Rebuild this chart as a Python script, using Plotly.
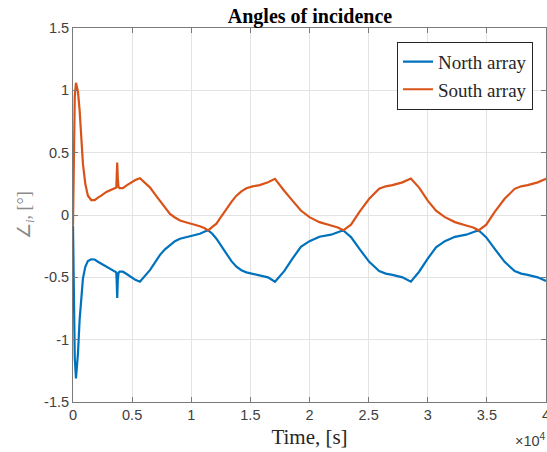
import plotly.graph_objects as go

# Simulation time [s]
time_s = [
    0, 60, 150, 250, 420, 560, 700, 840, 1040, 1260, 1540, 1830, 2110, 2390,
    2820, 3250, 3660, 3700, 3740, 3790, 3850, 3940, 4220, 4570, 4920, 5270,
    5660, 6000, 6520, 6940, 7360, 7780, 8200, 8620, 9050, 9540, 10030, 10730,
    11100, 11430, 11780, 12130, 12550, 12970, 13400, 13820, 14240, 14660,
    15200, 15790, 16490, 17080, 17460, 17860, 18560, 19270, 20000, 20840,
    21820, 22400, 22860, 23180, 23510, 24210, 25050, 25890, 26450, 27010,
    27860, 28570, 28920, 29270, 30000, 30700, 31450, 32300, 33250, 33850,
    34300, 34620, 34950, 35650, 36500, 37350, 37900, 38450, 39300, 40000,
]

# Angle of incidence, north array [deg]
north_deg = [
    -0.085, -0.6, -1.15, -1.31, -1.11, -0.84, -0.655, -0.51, -0.415, -0.37,
    -0.355, -0.357, -0.375, -0.39, -0.415, -0.44, -0.46, -0.55, -0.665, -0.52,
    -0.465, -0.455, -0.455, -0.475, -0.5, -0.52, -0.535, -0.5, -0.44, -0.38,
    -0.32, -0.275, -0.24, -0.21, -0.19, -0.178, -0.17, -0.15, -0.135, -0.123,
    -0.15, -0.19, -0.25, -0.31, -0.37, -0.415, -0.443, -0.46, -0.472, -0.48,
    -0.5, -0.535, -0.49, -0.45, -0.35, -0.256, -0.21, -0.174, -0.158, -0.14,
    -0.123, -0.15, -0.177, -0.27, -0.376, -0.45, -0.47, -0.48, -0.5, -0.535,
    -0.495, -0.455, -0.35, -0.26, -0.21, -0.175, -0.158, -0.14, -0.123, -0.15,
    -0.18, -0.27, -0.376, -0.45, -0.47, -0.48, -0.5, -0.53,
]

# Angle of incidence, south array [deg]
south_deg = [
    -0.085, 0.45, 0.95, 1.06, 0.99, 0.84, 0.63, 0.41, 0.25, 0.155,
    0.12, 0.12, 0.14, 0.155, 0.185, 0.205, 0.22, 0.32, 0.42, 0.29,
    0.225, 0.215, 0.215, 0.24, 0.26, 0.28, 0.295, 0.265, 0.22, 0.165,
    0.115, 0.06, 0.008, -0.02, -0.044, -0.058, -0.07, -0.09, -0.105, -0.123,
    -0.095, -0.07, -0.01, 0.05, 0.105, 0.155, 0.19, 0.215, 0.23, 0.24,
    0.262, 0.29, 0.24, 0.195, 0.115, 0.036, -0.017, -0.057, -0.084, -0.1,
    -0.123, -0.1, -0.078, 0.023, 0.13, 0.21, 0.23, 0.24, 0.262, 0.293,
    0.255, 0.22, 0.115, 0.035, -0.017, -0.057, -0.084, -0.1, -0.123, -0.1,
    -0.078, 0.023, 0.13, 0.21, 0.23, 0.24, 0.262, 0.29,
]

x_tick_vals = [0, 5000, 10000, 15000, 20000, 25000, 30000, 35000, 40000]
x_tick_text = ["0", "0.5", "1", "1.5", "2", "2.5", "3", "3.5", "4"]
y_tick_vals = [1.5, 1, 0.5, 0, -0.5, -1, -1.5]
y_tick_text = ["1.5", "1", "0.5", "0", "-0.5", "-1", "-1.5"]

serif = "Liberation Serif, Times New Roman, serif"
sans = "Liberation Sans, Arial, Helvetica, sans-serif"
axis_color = "#7a7a7a"
tick_font = dict(family=sans, size=14.5, color="#404040")

fig = go.Figure()
fig.add_trace(go.Scatter(
    x=time_s, y=north_deg, mode="lines", name="North array",
    line=dict(color="#0072BD", width=2.2),
))
fig.add_trace(go.Scatter(
    x=time_s, y=south_deg, mode="lines", name="South array",
    line=dict(color="#D95319", width=2.2),
))

axis_common = dict(
    showline=True, linecolor=axis_color, linewidth=1, mirror="ticks",
    ticks="inside", ticklen=5, tickcolor=axis_color, tickwidth=1,
    showgrid=True, gridcolor="#e3e3e3", gridwidth=1, zeroline=False,
    tickfont=tick_font, ticklabeloverflow="allow", automargin=False,
)

fig.update_layout(
    width=547, height=452,
    margin=dict(l=73, r=1, t=28, b=50, autoexpand=False),
    paper_bgcolor="white", plot_bgcolor="white",
    title=dict(
        text="<b>Angles of incidence</b>",
        font=dict(family=serif, size=20, color="black"),
        x=(310 / 547), xanchor="center", y=1 - 16 / 452, yanchor="middle",
    ),
    xaxis=dict(
        range=[0, 40000.5], tickvals=x_tick_vals, ticktext=x_tick_text,
        title=dict(text="Time, [s]", font=dict(family=serif, size=21, color="#262626"),
                   standoff=6),
        **axis_common,
    ),
    yaxis=dict(
        range=[-1.5, 1.5], tickvals=y_tick_vals, ticktext=y_tick_text,
        **axis_common,
    ),
    legend=dict(
        x=0.9725, y=0.9634, xanchor="right", yanchor="top",
        bgcolor="white", bordercolor="#262626", borderwidth=1,
        font=dict(family=serif, size=19, color="#262626"),
        tracegroupgap=0,
    ),
    showlegend=True,
    annotations=[
        dict(
            text="∠<sub><i>i</i></sub>, [°]", textangle=-90,
            xref="paper", yref="paper", x=-0.1015, y=0.5,
            xanchor="center", yanchor="middle", showarrow=False,
            font=dict(family=serif, size=18, color="#8a8a8a"),
        ),
        dict(
            text="×10<sup>4</sup>",
            xref="paper", yref="paper", x=0.930, y=-0.1016,
            xanchor="left", yanchor="middle", showarrow=False,
            font=dict(family=sans, size=14.5, color="#404040"),
        ),
    ],
)

fig.write_html("out.html")
